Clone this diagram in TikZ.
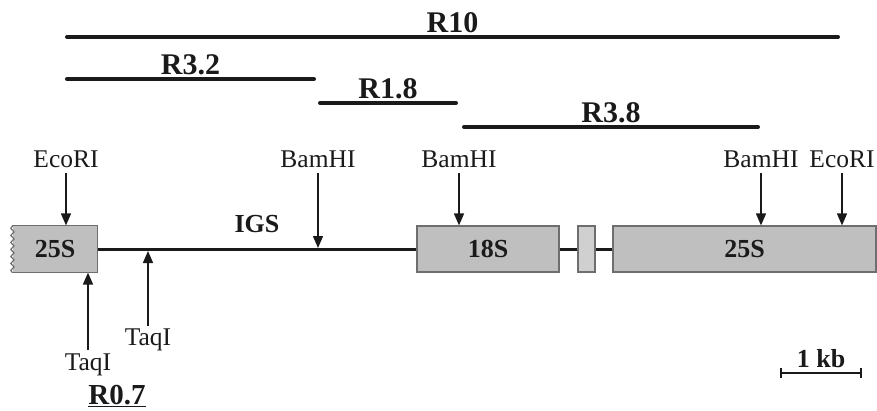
\documentclass[tikz,border=0pt]{standalone}
\usepackage{fontspec}
\setmainfont{Liberation Serif}
\usepackage{xcolor}
\usetikzlibrary{arrows.meta, positioning, calc, decorations.pathmorphing}
\definecolor{ink}{HTML}{1A1A1A}
\definecolor{exonFill}{HTML}{BFBFBF}
\definecolor{exonEdge}{HTML}{6E6E6E}
\definecolor{spacerFill}{HTML}{D0D0D0}
\tikzset{
    >={Triangle[length=12pt,width=10pt]},
    % Text
    site/.style={font=\fontsize{25.5}{28}\selectfont, text=ink, inner sep=0pt, anchor=base},
    tag/.style={font=\fontsize{26}{28}\selectfont\bfseries, text=ink, inner sep=0pt, anchor=base},
    fraglbl/.style={font=\fontsize{30}{32}\selectfont\bfseries, text=ink, inner sep=0pt, anchor=base, midway, yshift=5pt},
    % Shapes
    exon/.style={rectangle, draw=exonEdge, fill=exonFill, line width=1.2pt, minimum height=46pt,
                 inner sep=0pt, font=\fontsize{26}{28}\selectfont\bfseries, text=ink},
    edge/.style={draw=exonEdge, line width=1.2pt},
    wavy/.style={edge, decorate, decoration={snake, amplitude=1.6pt, segment length=7pt}},
    % Lines
    frag/.style={line width=4pt, ink, line cap=round},
    spacer/.style={line width=3pt, ink},
    cut/.style={->, line width=1.5pt, ink},
    bar/.style={line width=1.2pt, ink}
}
\begin{document}
\begin{tikzpicture}[x=1pt, y=-1pt]
\useasboundingbox (0,0) rectangle (877,410);

% restriction fragments
\draw[frag] (67,37) -- node[fraglbl] (r10) {R10} (838,37);
\draw[frag] (67,79) -- node[fraglbl] (r32) {R3.2} (314,79);
\draw[frag] (320,103) -- node[fraglbl] (r18) {R1.8} (456,103);
\draw[frag] (464,127) -- node[fraglbl] (r38) {R3.8} (758,127);

% rDNA unit
\node[exon, draw=none, minimum width=84pt] (l25) at (55,249) {25S};
\node[exon, minimum width=142pt] (s18) at (488,249) {18S};
\node[exon, fill=spacerFill, minimum width=17pt] (s58) at (586.5,249) {};
\node[exon, minimum width=263pt] (r25) at (744.5,249) {25S};
\draw[edge] (l25.north west) -- (l25.north east) -- (l25.south east) -- (l25.south west);
\draw[wavy] (l25.south west) -- (l25.north west);

\draw[spacer] (l25.east) -- (s18.west);
\draw[spacer] (s18.east) -- (s58.west);
\draw[spacer] (s58.east) -- (r25.west);
\node[tag] (igs) at (257,232) {IGS};

% sites above
\node[site] (ecoL) at (66,167) {EcoRI};
\node[site] (bamA) at (318,167) {BamHI};
\node[site] (bamB) at (459,167) {BamHI};
\node[site] (bamC) at (761,167) {BamHI};
\node[site] (ecoR) at (842,167) {EcoRI};
\coordinate (cutA) at (318,248);

\draw[cut] ([yshift=-6pt]ecoL.south) -- (ecoL.south |- l25.north);
\draw[cut] ([yshift=-6pt]bamA.south) -- (cutA);
\draw[cut] ([yshift=-6pt]bamB.south) -- (bamB.south |- s18.north);
\draw[cut] ([yshift=-6pt]bamC.south) -- (bamC.south |- r25.north);
\draw[cut] ([yshift=-6pt]ecoR.south) -- (ecoR.south |- r25.north);

% sites below
\node[site] (taqA) at (88,370) {TaqI};
\node[site] (taqB) at (148,345) {TaqI};
\coordinate (cutT) at (148,251);

\draw[cut] ([yshift=3pt]taqA.north) -- (taqA.north |- l25.south);
\draw[cut] ([yshift=2pt]taqB.north) -- (cutT);

\node[tag, font=\fontsize{29}{30}\selectfont\bfseries] (r07) at (117,404) {\underline{R0.7}};

% scale
\coordinate (sbL) at (781,373);
\coordinate (sbR) at (861,373);
\draw[bar] (sbL) -- (sbR);
\draw[bar] ([yshift=5pt]sbL) -- ([yshift=-5pt]sbL);
\draw[bar] ([yshift=5pt]sbR) -- ([yshift=-5pt]sbR);
\node[tag] (kb) at (821,367) {1 kb};

\end{tikzpicture}
\end{document}
